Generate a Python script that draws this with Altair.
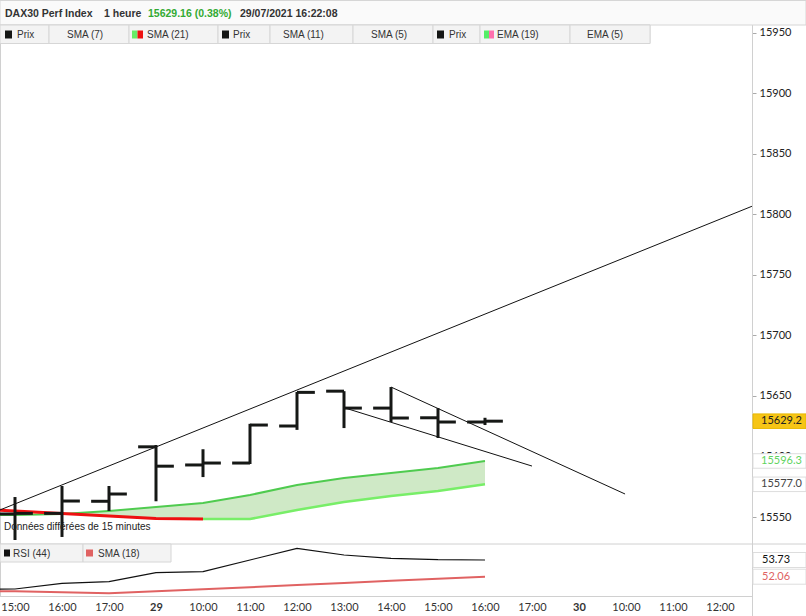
import json
import altair as alt
import pandas as pd

# ---------------- data ----------------
tick_labels = ["15:00", "16:00", "17:00", "29", "10:00", "11:00", "12:00", "13:00",
               "14:00", "15:00", "16:00", "17:00", "30", "10:00", "11:00", "12:00"]

bar_index = [0, 1, 2, 3, 4, 5, 6, 7, 8, 9, 10]
bar_open = [15552.5, 15553.0, 15563.0, 15608.0, 15593.0, 15594.6, 15625.2, 15654.0, 15640.0, 15632.0, 15628.5]
bar_high = [15566.5, 15575.6, 15575.6, 15609.5, 15606.0, 15627.0, 15653.3, 15654.0, 15657.4, 15640.0, 15632.0]
bar_low = [15531.0, 15533.5, 15555.0, 15563.0, 15583.0, 15593.8, 15622.0, 15623.5, 15628.5, 15615.3, 15626.0]
bar_close = [15553.0, 15563.2, 15569.0, 15592.0, 15594.6, 15626.0, 15653.0, 15640.0, 15631.8, 15628.5, 15629.2]

ma_index = [-1, 0, 1, 2, 3, 4, 5, 6, 7, 8, 9, 10]
ma_upper = [15551.5, 15551.7, 15552.5, 15555.0, 15558.3, 15561.6, 15568.2, 15576.5, 15582.2, 15586.4, 15590.5, 15596.3]
ma_lower = [15556.6, 15555.0, 15552.9, 15550.8, 15548.7, 15548.3, 15548.3, 15555.8, 15562.4, 15567.4, 15571.5, 15577.0]
lower_turn = 4  # index where the lower line turns from red to green

rsi_values = [50.80, 50.83, 51.40, 51.56, 52.46, 52.56, 53.73, 54.90, 54.23, 53.90, 53.76, 53.73]
rsi_sma_values = [50.60, 50.60, 50.50, 50.40, 50.60, 50.80, 51.00, 51.23, 51.44, 51.65, 51.85, 52.06]

trend_id = ["a", "a", "b", "b", "c", "c"]
trend_x = [-0.32, 15.68, 7.02, 11.0, 8.0, 12.98]
trend_v = [15555.8, 15806.8, 15640.1, 15592.1, 15657.4, 15569.0]

price_ticks = [15550, 15600, 15650, 15700, 15750, 15800, 15850, 15900, 15950]
last_price = 15629.2

header_texts = ["DAX30 Perf Index", "1 heure", "15629.16 (0.38%)", "29/07/2021 16:22:08"]
legend_labels = ["Prix", "SMA (7)", "SMA (21)", "Prix", "SMA (11)", "SMA (5)", "Prix", "EMA (19)", "EMA (5)"]
rsi_legend_labels = ["RSI (44)", "SMA (18)"]
delay_note = "Données différées de 15 minutes"

# ---------------- layout / style ----------------
W, H = 752, 596
FONT_UI = "Liberation Sans"
FONT_AX = "Lato"
BAR = "#161816"
TICK_HALF = 0.38

xs = alt.Scale(domain=[-0.3191, 15.6809], nice=False, zero=False)
ps = alt.Scale(domain=[15526.86, 15977.27], range=[545, 0], nice=False, zero=False)
rs = alt.Scale(domain=[50.13, 55.33], range=[596, 544], nice=False, zero=False)

label_expr = ""
for k, t in enumerate(tick_labels):
    label_expr += f"datum.value == {k} ? '{t}' : "
label_expr += "''"
day_test = " || ".join(f"datum.value == {k}" for k, t in enumerate(tick_labels) if ":" not in t)

x_axis = alt.Axis(
    values=list(range(len(tick_labels))),
    labelExpr=label_expr,
    title=None, grid=False, ticks=False, domain=False,
    labelFont=FONT_AX, labelFontSize=11, labelColor="#333", labelPadding=5,
    labelFontWeight={"condition": {"test": day_test, "value": "bold"}, "value": "normal"},
    labelFlush=False, labelOverlap=False, labelBound=False,
)
y_axis = alt.Axis(
    orient="right", values=price_ticks, title=None, grid=False, domain=False,
    ticks=True, tickSize=4, tickColor="#aaaaaa", format="d",
    labelFont=FONT_AX, labelFontSize=11, labelColor="#222", labelPadding=3,
)


def X(field):
    return alt.X(field, type="quantitative", scale=xs, axis=x_axis)


def P(field):
    return alt.Y(field, type="quantitative", scale=ps, axis=y_axis)


def R(field):
    return alt.Y(field, type="quantitative", scale=rs, axis=None)


def PX(field):
    return alt.X(field, type="quantitative", scale=None, axis=None)


def PY(field):
    return alt.Y(field, type="quantitative", scale=None, axis=None)


# ---------------- price panel ----------------
df_bars = pd.DataFrame({"i": bar_index, "o": bar_open, "h": bar_high, "l": bar_low, "c": bar_close})
df_ma = pd.DataFrame({"i": ma_index, "up": ma_upper, "lo": ma_lower})
df_tr = pd.DataFrame({"id": trend_id, "i": trend_x, "v": trend_v})

area = alt.Chart(df_ma).transform_filter("datum.i >= 1").mark_area(
    color="#cfe9c6", opacity=1, clip=True).encode(x=X("i"), y=P("lo"), y2="up")
upper_line = alt.Chart(df_ma).mark_line(color="#4fcb4f", strokeWidth=2, clip=True).encode(
    x=X("i"), y=P("up"))
lower_green = alt.Chart(df_ma).transform_filter(f"datum.i >= {lower_turn}").mark_line(
    color="#78ee68", strokeWidth=2.5, clip=True).encode(x=X("i"), y=P("lo"))
lower_red = alt.Chart(df_ma).transform_filter(f"datum.i <= {lower_turn}").mark_line(
    color="#ee1111", strokeWidth=3, clip=True).encode(x=X("i"), y=P("lo"))

trends = alt.Chart(df_tr).mark_line(color="#111", strokeWidth=1, clip=True).encode(
    x=X("i"), y=P("v"), detail="id:N")

bars_v = alt.Chart(df_bars).mark_rule(strokeWidth=3, color=BAR).encode(
    x=X("i"), y=P("l"), y2="h")
open_t = alt.Chart(df_bars).transform_calculate(xo=f"datum.i - {TICK_HALF}").mark_rule(
    strokeWidth=3, color=BAR).encode(x=X("xo"), x2="i", y=P("o"))
close_t = alt.Chart(df_bars).transform_calculate(xc=f"datum.i + {TICK_HALF}").mark_rule(
    strokeWidth=3, color=BAR).encode(x=X("i"), x2="xc", y=P("c"))

df_pbox = pd.DataFrame({
    "v": [last_price, ma_upper[-1], ma_lower[-1]],
    "fill": ["#f6c516", "#ffffff", "#ffffff"],
    "stroke": ["#e8b800", "#dddddd", "#dddddd"],
    "tc": ["#222222", "#5fd45f", "#444444"],
})
df_pbox["txt"] = [f"{v:.1f}" for v in df_pbox["v"]]
pbox_rect = alt.Chart(df_pbox).transform_calculate(
    lo="datum.v - 6.0", hi="datum.v + 6.0").mark_rect(strokeWidth=1).encode(
    x=alt.value(753), x2=alt.value(806), y=P("lo"), y2="hi",
    color=alt.Color("fill:N", scale=None), stroke=alt.Stroke("stroke:N", scale=None))
pbox_text = alt.Chart(df_pbox).mark_text(font=FONT_AX, fontSize=11, align="left", baseline="middle").encode(
    x=alt.value(761), y=P("v"), text="txt:N", color=alt.Color("tc:N", scale=None))

# ---------------- RSI panel ----------------
df_rsi = pd.DataFrame({"i": ma_index, "rsi": rsi_values, "sma": rsi_sma_values})
rsi_line = alt.Chart(df_rsi).mark_line(color="#111", strokeWidth=1.2, clip=True).encode(
    x=X("i"), y=R("rsi"))
rsi_sma_line = alt.Chart(df_rsi).mark_line(color="#e06262", strokeWidth=2, clip=True).encode(
    x=X("i"), y=R("sma"))
df_rbox = pd.DataFrame({"v": [rsi_values[-1], rsi_sma_values[-1]], "tc": ["#111111", "#e06262"]})
df_rbox["txt"] = [f"{v:.2f}" for v in df_rbox["v"]]
rbox_rect = alt.Chart(df_rbox).transform_calculate(
    lo="datum.v - 0.75", hi="datum.v + 0.75").mark_rect(fill="white", stroke="#dddddd", strokeWidth=1).encode(
    x=alt.value(753), x2=alt.value(806), y=R("lo"), y2="hi")
rbox_text = alt.Chart(df_rbox).mark_text(font=FONT_AX, fontSize=11, align="left", baseline="middle").encode(
    x=alt.value(762), y=R("v"), text="txt:N", color=alt.Color("tc:N", scale=None))

# ---------------- decorations (pixel space) ----------------
df_frames = pd.DataFrame({
    "x0": [0, 0],
    "x1": [806, 650],
    "y0": [0.5, 25],
    "y1": [25, 43.5],
    "fill": ["#fafafa", "#f3f3f3"],
})
frames = alt.Chart(df_frames).mark_rect(stroke="#d6d6d6", strokeWidth=1).encode(
    x=PX("x0"), x2="x1", y=PY("y0"), y2="y1", color=alt.Color("fill:N", scale=None))

df_cells = pd.DataFrame({
    "x0": [0, 49, 129, 218, 270, 353, 433, 480, 570],
    "x1": [49, 129, 218, 270, 353, 433, 480, 570, 650],
    "tx": [17, 67, 147, 233, 283, 371, 449, 497, 587],
    "label": legend_labels,
})
cells = alt.Chart(df_cells).mark_rect(fill="#f3f3f3", stroke="#d6d6d6", strokeWidth=1).encode(
    x=PX("x0"), x2="x1", y=alt.value(25), y2=alt.value(43.5))
cell_text = alt.Chart(df_cells).mark_text(font=FONT_UI, fontSize=10, align="left", baseline="middle",
                                          color="#333").encode(
    x=PX("tx"), y=alt.value(34.5), text="label:N")

df_sw = pd.DataFrame({
    "x0": [5, 132, 137.5, 222, 437, 484, 489],
    "x1": [12, 137.5, 143, 229, 444, 489, 494],
    "c": ["#141614", "#66ee66", "#ee1111", "#141614", "#141614", "#55ee66", "#ff6fae"],
    "y0": [30.5] * 7,
    "y1": [38.5] * 7,
})
swatches = alt.Chart(df_sw).mark_rect().encode(
    x=PX("x0"), x2="x1", y=PY("y0"), y2="y1", color=alt.Color("c:N", scale=None))

df_head = pd.DataFrame({
    "x": [5, 104, 148, 240],
    "t": header_texts,
    "c": ["#333333", "#333333", "#33aa33", "#333333"],
})
head_text = alt.Chart(df_head).mark_text(font=FONT_UI, fontSize=10.5, fontWeight="bold", align="left",
                                         baseline="middle").encode(
    x=PX("x"), y=alt.value(14), text="t:N", color=alt.Color("c:N", scale=None))

df_rcells = pd.DataFrame({
    "x0": [0, 83], "x1": [83, 171],
    "sx0": [4, 86], "sx1": [10, 93],
    "tx": [13, 98], "sc": ["#111111", "#e06262"],
    "label": rsi_legend_labels,
})
rcells = alt.Chart(df_rcells).mark_rect(fill="#f3f3f3", stroke="#d6d6d6", strokeWidth=1).encode(
    x=PX("x0"), x2="x1", y=alt.value(544), y2=alt.value(562))
rsw = alt.Chart(df_rcells).mark_rect().encode(
    x=PX("sx0"), x2="sx1", y=alt.value(549.5), y2=alt.value(556.5), color=alt.Color("sc:N", scale=None))
rtext = alt.Chart(df_rcells).mark_text(font=FONT_UI, fontSize=10, align="left", baseline="middle",
                                       color="#333").encode(
    x=PX("tx"), y=alt.value(553.5), text="label:N")

df_note = pd.DataFrame({"t": [delay_note]})
note = alt.Chart(df_note).mark_text(font=FONT_UI, fontSize=10, align="left", baseline="middle",
                                    color="#222").encode(
    x=alt.value(4), y=alt.value(527), text="t:N")

df_borders = pd.DataFrame({
    "x0": [752.5, 0, 0, 0.5],
    "x1": [752.5, 806, 752.5, 0.5],
    "y0": [25, 544, 596.5, 25],
    "y1": [616, 544, 596.5, 596],
})
borders = alt.Chart(df_borders).mark_rule(color="#d0d0d0", strokeWidth=1).encode(
    x=PX("x0"), x2="x1", y=PY("y0"), y2="y1")

price = alt.layer(area, upper_line, lower_green, lower_red, trends, bars_v, open_t, close_t,
                  pbox_rect, pbox_text)
rsi = alt.layer(rsi_line, rsi_sma_line, rbox_rect, rbox_text)

chart = alt.layer(
    borders, price, rsi, note, frames, cells, swatches, cell_text, head_text, rcells, rsw, rtext
).resolve_scale(y="independent").properties(
    width=W, height=H,
    padding={"left": 0, "top": 0, "right": 54, "bottom": 20},
    autosize=alt.AutoSizeParams(type="none"),
    background="white",
).configure_view(stroke=None)

chart.save("out.html", embed_options={"renderer": "svg", "actions": False})
